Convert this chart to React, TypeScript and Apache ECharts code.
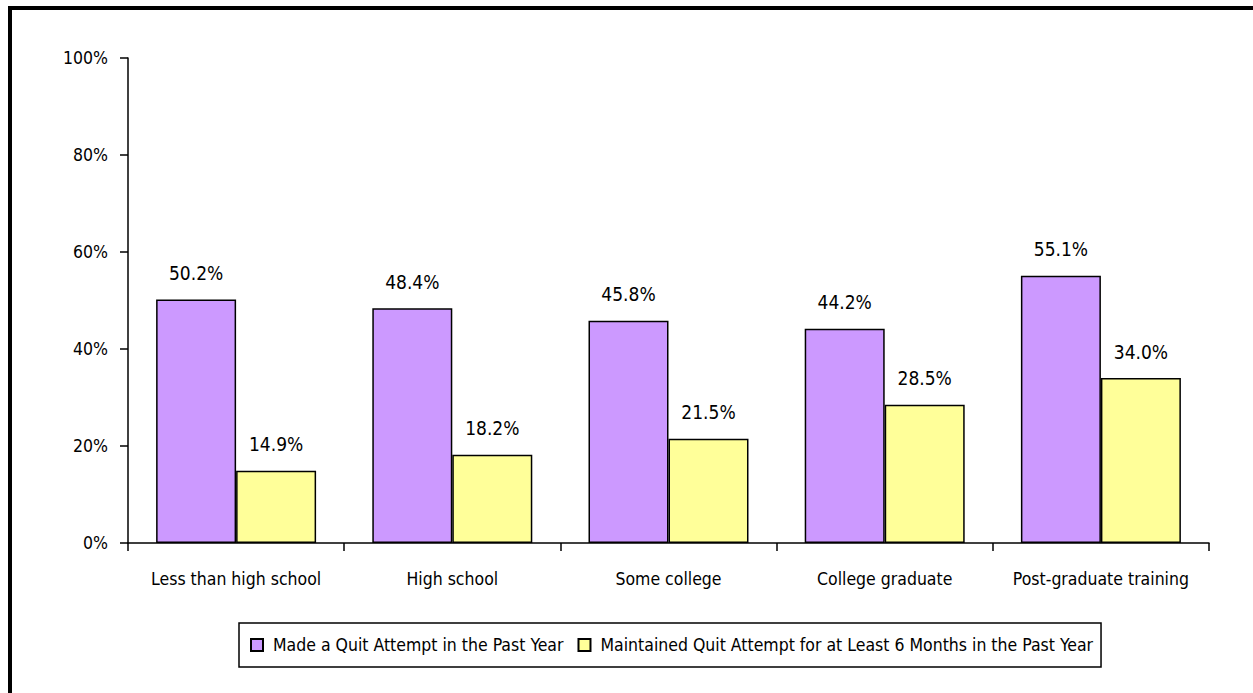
import React, { useEffect, useRef } from "react";
import * as echarts from "echarts";

const categories = [
  "Less than high school",
  "High school",
  "Some college",
  "College graduate",
  "Post-graduate training",
];
const seriesNames = [
  "Made a Quit Attempt in the Past Year",
  "Maintained Quit Attempt for at Least 6 Months in the Past Year",
];
const madeQuit = [50.2, 48.4, 45.8, 44.2, 55.1];
const maintainedQuit = [14.9, 18.2, 21.5, 28.5, 34.0];

const FONT = "'DejaVu Sans Condensed', 'Liberation Sans Narrow', sans-serif";

export default function App() {
  const ref = useRef<HTMLDivElement>(null);
  useEffect(() => {
    if (!ref.current) return;
    const chart = echarts.init(ref.current, null, { renderer: "svg" });
    const labelCfg = {
      show: true,
      position: "top",
      distance: 17,
      color: "#000",
      fontFamily: FONT,
      fontSize: 19,
      formatter: (p: any) => Number(p.value).toFixed(1) + "%",
    };
    chart.setOption({
      animation: false,
      backgroundColor: "#fff",
      textStyle: { fontFamily: FONT, color: "#000" },
      grid: { left: 128, right: 44, top: 58, bottom: 150, containLabel: false },
      legend: {
        left: 239,
        top: 623,
        orient: "horizontal",
        borderColor: "#000",
        borderWidth: 1.5,
        padding: [13, 8, 13, 11],
        itemGap: 14,
        itemWidth: 12,
        itemHeight: 12,
        icon: "rect",
        textStyle: { fontFamily: FONT, fontSize: 17.5, color: "#000", padding: [0, 0, 0, 5] },
        data: seriesNames,
      },
      xAxis: {
        type: "category",
        data: categories,
        axisLine: { lineStyle: { color: "#000", width: 1.5 } },
        axisTick: { show: true, alignWithLabel: false, length: 8, inside: false, lineStyle: { color: "#000", width: 1.5 } },
        axisLabel: { color: "#000", fontFamily: FONT, fontSize: 17.5, margin: 27, interval: 0 },
      },
      yAxis: {
        type: "value",
        min: 0,
        max: 100,
        interval: 20,
        axisLine: { show: true, lineStyle: { color: "#000", width: 1.5 } },
        axisTick: { show: true, length: 8, lineStyle: { color: "#000", width: 1.5 } },
        splitLine: { show: false },
        axisLabel: { color: "#000", fontFamily: FONT, fontSize: 17.5, margin: 20, formatter: "{value}%" },
      },
      series: [
        {
          name: seriesNames[0],
          type: "bar",
          data: madeQuit,
          barGap: "0%",
          barCategoryGap: "26%",
          itemStyle: { color: "#CC99FF", borderColor: "#000", borderWidth: 1.5 },
          label: labelCfg,
        },
        {
          name: seriesNames[1],
          type: "bar",
          data: maintainedQuit,
          barGap: "0%",
          barCategoryGap: "26%",
          itemStyle: { color: "#FFFF99", borderColor: "#000", borderWidth: 1.5 },
          label: labelCfg,
        },
      ],
      graphic: [
        { type: "rect", left: 8, top: 6, shape: { width: 4, height: 700 }, style: { fill: "#000" } },
        { type: "rect", left: 8, top: 6, shape: { width: 1260, height: 4 }, style: { fill: "#000" } },
      ],
    });
    return () => chart.dispose();
  }, []);
  return (
    <div
      ref={ref}
      style={{ position: "absolute", left: 0, top: 0, width: 1253, height: 693 }}
    />
  );
}
